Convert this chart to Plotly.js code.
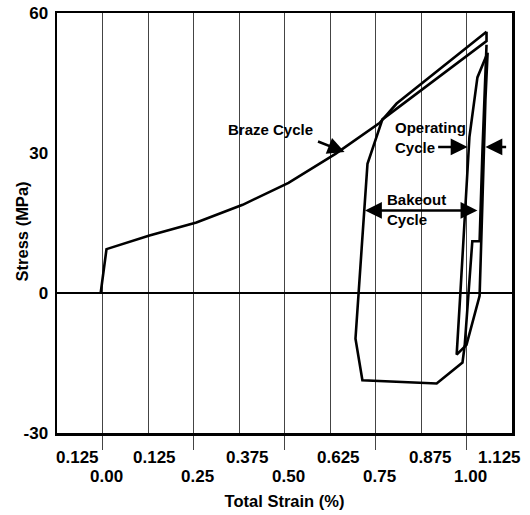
<!DOCTYPE html>
<html>
<head>
<meta charset="utf-8">
<script src="https://cdn.plot.ly/plotly-3.0.1.min.js"></script>
<style>html,body{margin:0;padding:0;background:#fff;}</style>
</head>
<body>
<div id="chart" style="width:530px;height:515px;"></div>
<script>
// Braze cycle (strain %, stress MPa)
const brazeStrain = [-0.005, 0.011, 0.129, 0.258, 0.385, 0.511, 0.640, 0.761, 0.808, 1.055];
const brazeStress = [0.0, 9.4, 12.3, 15.1, 18.9, 23.6, 29.8, 36.4, 40.6, 56.0];

// Bakeout cycle
const bakeStrain = [1.055, 1.055, 0.769, 0.728, 0.712, 0.695, 0.714, 0.918, 0.989, 0.995, 1.016, 1.036, 1.044, 1.055];
const bakeStress = [56.0, 54.0, 37.2, 27.7, 9.6, -9.8, -18.7, -19.4, -14.9, -11.3, 11.1, 11.1, 30.9, 53.2];

// Operating cycle
const operStrain = [1.058, 1.052, 1.044, 1.036, 1.000, 0.973, 0.984, 0.997, 1.008, 1.030, 1.058];
const operStress = [51.5, 41.5, 20.2, -0.6, -11.1, -13.2, 1.1, 19.1, 33.4, 46.2, 51.5];

// Axis ticks
const majorTicks = [0, 0.25, 0.5, 0.75, 1.0];
const majorLabels = ['0.00', '0.25', '0.50', '0.75', '1.00'];
const halfTicks = [-0.125, 0.125, 0.375, 0.625, 0.875, 1.125];
const halfLabels = ['0.125', '0.125', '0.375', '0.625', '0.875', '1.125'];
const yTicks = [-30, 0, 30, 60];
const yLabels = ['-30', '0', '30', '60'];

const FONT = 'Liberation Sans, Arial, sans-serif';
const lineStyle = {color: '#000', width: 2.6};

const traces = [
  {x: brazeStrain, y: brazeStress, mode: 'lines', line: lineStyle, hoverinfo: 'skip'},
  {x: bakeStrain, y: bakeStress, mode: 'lines', line: lineStyle, hoverinfo: 'skip'},
  {x: operStrain, y: operStress, mode: 'lines', line: lineStyle, hoverinfo: 'skip'}
];

const tickFont = {family: FONT, size: 17, color: '#000', weight: 'bold'};
const halfShift = [20, 6, 8, 8, 9, -13];
const annotations = [];
halfTicks.forEach((v, i) => annotations.push({
  x: v, y: 0, xref: 'x', yref: 'paper', text: '<b>' + halfLabels[i] + '</b>', showarrow: false,
  xanchor: 'center', yanchor: 'middle', xshift: halfShift[i], yshift: -24, font: tickFont
}));
majorTicks.forEach((v, i) => annotations.push({
  x: v, y: 0, xref: 'x', yref: 'paper', text: '<b>' + majorLabels[i] + '</b>', showarrow: false,
  xanchor: 'center', yanchor: 'middle', xshift: 4, yshift: -43, font: tickFont
}));

const labelFont = {family: FONT, size: 15, color: '#000', weight: 'bold'};
const titleFont = {family: FONT, size: 16.5, color: '#000', weight: 'bold'};
// y axis title
annotations.push({x: 0, y: 0.48, xref: 'paper', yref: 'paper', text: '<b>Stress (MPa)</b>', showarrow: false,
  textangle: -90, xanchor: 'center', yanchor: 'middle', xshift: -35, font: titleFont});
// text labels
annotations.push({x: 0.583, y: 35.1, xref: 'x', yref: 'y', text: '<b>Braze Cycle</b>', showarrow: false,
  xanchor: 'right', yanchor: 'middle', font: labelFont});
annotations.push({x: 0.797, y: 33.3, xref: 'x', yref: 'y', text: '<b>Operating<br>Cycle</b>', showarrow: false,
  xanchor: 'left', yanchor: 'middle', align: 'left', font: labelFont});
annotations.push({x: 0.777, y: 18.0, xref: 'x', yref: 'y', text: '<b>Bakeout<br>Cycle</b>', showarrow: false,
  xanchor: 'left', yanchor: 'middle', align: 'left', font: labelFont});
// arrows
const arrowBase = {xref: 'x', yref: 'y', axref: 'x', ayref: 'y', text: '', showarrow: true,
  arrowhead: 2, arrowsize: 1.35, arrowwidth: 2.5, arrowcolor: '#000', standoff: 0, startstandoff: 0};
annotations.push(Object.assign({}, arrowBase, {x: 0.665, y: 30.2, ax: 0.588, ay: 32.6}));
annotations.push(Object.assign({}, arrowBase, {x: 1.003, y: 31.3, ax: 0.918, ay: 31.3}));
annotations.push(Object.assign({}, arrowBase, {x: 1.052, y: 31.3, ax: 1.113, ay: 31.3}));
annotations.push(Object.assign({}, arrowBase, {x: 1.030, y: 17.7, ax: 0.717, ay: 17.7,
  arrowside: 'end+start', startarrowhead: 2, startarrowsize: 1.35}));

const layout = {
  width: 530, height: 515,
  margin: {l: 57, r: 18, t: 13, b: 82},
  paper_bgcolor: '#fff', plot_bgcolor: '#fff',
  showlegend: false,
  font: {family: FONT, color: '#000'},
  xaxis: {
    range: [-0.125, 1.125], tickvals: majorTicks, showticklabels: false,
    ticks: 'outside', ticklen: 14, tickwidth: 1, tickcolor: '#444',
    showgrid: true, gridcolor: '#444', gridwidth: 1,
    minor: {tickvals: halfTicks, showgrid: true, gridcolor: '#444', gridwidth: 1, ticks: ''},
    zeroline: false, showline: true, mirror: true, linecolor: '#000', linewidth: 2.5,
    title: {text: '<b>Total Strain (%)</b>', font: titleFont, standoff: 47},
    fixedrange: true
  },
  yaxis: {
    range: [-30, 60], tickvals: yTicks, ticktext: yLabels.map(s => '<b>' + s + '</b>'), ticks: '', ticklabelstandoff: 3,
    tickfont: tickFont,
    showgrid: false, zeroline: true, zerolinecolor: '#000', zerolinewidth: 2.5,
    showline: true, mirror: true, linecolor: '#000', linewidth: 2.5,
    fixedrange: true
  },
  annotations: annotations
};

Plotly.newPlot('chart', traces, layout, {staticPlot: true, displayModeBar: false});
</script>
</body>
</html>
